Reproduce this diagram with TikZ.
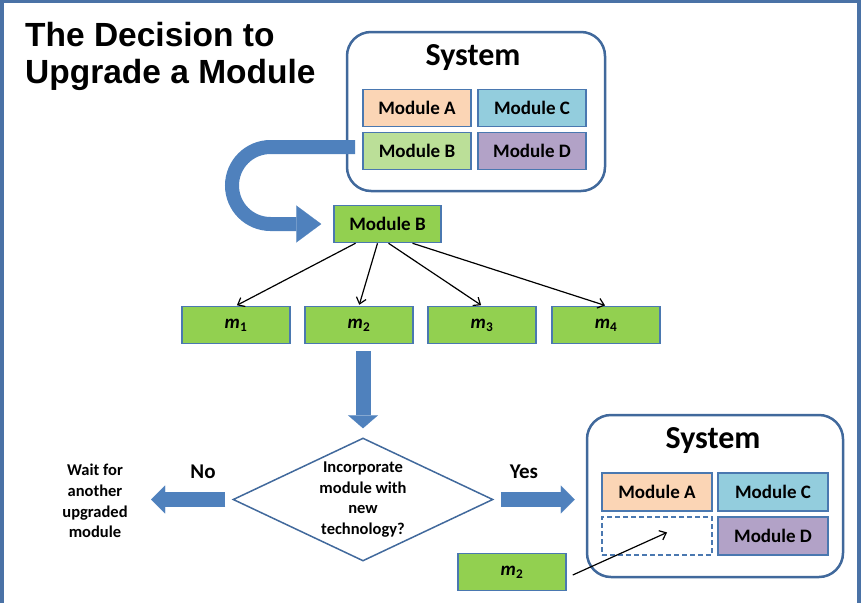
\documentclass[tikz,border=0pt]{standalone}
\usepackage{fontspec}
\setmainfont{Carlito}
\newfontfamily\titlefont{Liberation Sans}
\usetikzlibrary{arrows.meta,shapes.geometric,positioning}
\definecolor{pilblue}{HTML}{4F81BD}
\definecolor{rammeblue}{HTML}{4A72A6}
\definecolor{sysblue}{HTML}{41699C}
\definecolor{kantblue}{HTML}{4A78B0}
\definecolor{colA}{HTML}{FBD5B5}
\definecolor{colB}{HTML}{BBDF98}
\definecolor{colC}{HTML}{93CDDD}
\definecolor{colD}{HTML}{B2A2C7}
\definecolor{mgreen}{HTML}{92D050}
\tikzset{
    %Define standard arrow tip
    >={Straight Barb[length=6pt,width=10pt]},
    %Define style for module boxes
    modul/.style={
           rectangle,
           draw=kantblue, line width=1.5pt,
           minimum width=108pt,
           minimum height=37pt,
           inner sep=0pt,
           font=\fontsize{19}{22}\selectfont\bfseries},
    mpunkt/.style={
           modul,
           fill=mgreen},
    %Define style for system frames
    sysbox/.style={
           rectangle,
           rounded corners=24pt,
           draw=sysblue, line width=2.5pt,
           fill=white},
    systitle/.style={
           font=\fontsize{32}{36}\selectfont\bfseries},
    smalltext/.style={
           align=center,
           font=\fontsize{16.5}{20.7}\selectfont\bfseries},
    % Define arrow styles
    pil/.style={
           ->,
           line width=1.2pt,
           shorten >=1pt},
    fatpil/.style={
           draw=pilblue,
           line width=15pt,
           -{Triangle[width=28pt,length=14pt,line width=0.1pt]}}
}
\begin{document}
\begin{tikzpicture}[x=1pt, y=-1pt]
         \useasboundingbox (0,0) rectangle (865,603);
         %frame
         \fill[rammeblue] (0,0) rectangle (4,603);
         \fill[rammeblue] (0,0) rectangle (860,3);
         \fill[rammeblue] (857,0) rectangle (861,603);
         %title
         \node[anchor=north west, align=left, inner sep=0pt,
               font=\titlefont\fontsize{33.5}{37.5}\selectfont\bfseries]
               (tittel) at (25,22) {The Decision to\\Upgrade a Module};
         %upper system
         \node[sysbox, minimum width=258pt, minimum height=159pt] (sys1) at (476,111.5) {};
         \node[systitle] (sys1tit) at (473,58) {System};
         \node[modul, fill=colA] (modA) at (417,108) {Module A};
         \node[modul, fill=colC, right=5.5pt of modA] (modC) {Module C};
         \node[modul, fill=colB, below=4.5pt of modA] (modBs) {Module B};
         \node[modul, fill=colD, right=5.5pt of modBs] (modD) {Module D};
         %chosen module and its parts
         \node[mpunkt, minimum width=107pt] (modB) at (387.5,224) {Module B};
         \node[mpunkt] (m1) at (236,325) {\textit{m}\textsubscript{1}};
         \node[mpunkt] (m2) at (359,325) {\textit{m}\textsubscript{2}};
         \node[mpunkt] (m3) at (482,325) {\textit{m}\textsubscript{3}};
         \node[mpunkt] (m4) at (606,325) {\textit{m}\textsubscript{4}};
         \coordinate (start) at (355,147);
         \draw[fatpil, line width=14pt,
               -{Triangle[width=37pt,length=25pt,line width=0.1pt]}, shorten >=12pt]
               (start) -- (270.5,147) arc[start angle=270, end angle=90, radius=38.5] -- (modB.west);
         \draw[pil] ([xshift=-32pt]modB.south) -- (m1.north);
         \draw[pil] ([xshift=-10pt]modB.south) -- (m2.north);
         \draw[pil] ([xshift=1pt]modB.south) -- (m3.north);
         \draw[pil] ([xshift=25pt]modB.south) -- (m4.north);
         %decision
         \node[diamond, aspect=2.1, draw=sysblue, line width=1.5pt,
               minimum width=260pt, minimum height=123pt, inner sep=0pt, smalltext]
               (dec) at (363,499.5) {Incorporate\\module with\\new\\technology?};
         \draw[fatpil, -{Triangle[width=30pt,length=13pt,line width=0.1pt]},
               shorten <=7pt, shorten >=9pt] (m2.south -| dec.north) -- (dec.north);
         \node[smalltext] (vent) at (95,501) {Wait for\\another\\upgraded\\module};
         \node[font=\fontsize{21}{24}\selectfont\bfseries] (nei) at (203,472) {No};
         \node[font=\fontsize{21}{24}\selectfont\bfseries] (ja) at (524,472) {Yes};
         %lower system
         \node[sysbox, minimum width=256pt, minimum height=162pt] (sys2) at (715,496) {};
         \node[systitle] (sys2tit) at (713,441) {System};
         \node[modul, fill=colA, minimum width=110pt, minimum height=38pt] (modA2) at (657,492) {Module A};
         \node[modul, fill=colC, minimum width=110pt, minimum height=38pt] (modC2) at (773,492) {Module C};
         \node[modul, fill=white, dash pattern=on 5pt off 3pt, minimum width=110pt, minimum height=38pt] (tom) at (657,536) {};
         \node[modul, fill=colD, minimum width=110pt, minimum height=38pt] (modD2) at (773,536) {Module D};
         \node[mpunkt, minimum height=37pt] (m2ny) at (512,572) {\textit{m}\textsubscript{2}};
         \draw[fatpil, shorten <=7pt, shorten >=20pt] (dec.west) -- (dec.west -| vent.east);
         \draw[fatpil, shorten <=7pt, shorten >=11pt] (dec.east) -- (dec.east -| sys2.west);
         \draw[pil] ([xshift=6pt,yshift=-3pt]m2ny.east) -- ([xshift=11pt,yshift=4pt]tom.center);
\end{tikzpicture}
\end{document}
